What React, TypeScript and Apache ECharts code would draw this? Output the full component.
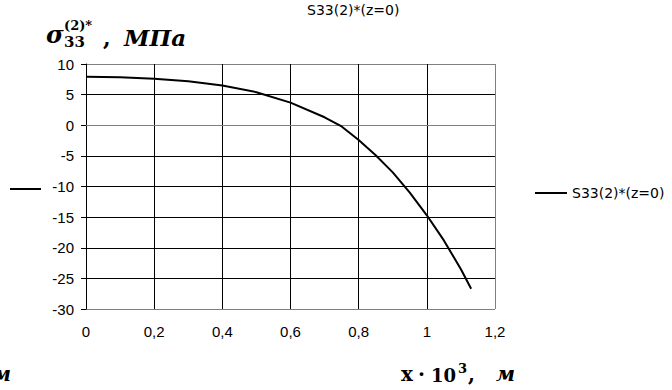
import React, { useEffect, useRef } from "react";
import * as echarts from "echarts";

// Stress profile along x at z = 0
const xValues = [0, 0.1, 0.2, 0.3, 0.4, 0.5, 0.6, 0.7, 0.75, 0.8, 0.85, 0.9, 0.95, 1.0, 1.05, 1.1, 1.13];
const s33Values = [7.9, 7.85, 7.6, 7.2, 6.5, 5.4, 3.7, 1.3, -0.2, -2.4, -4.9, -7.7, -11.0, -14.7, -18.8, -23.5, -26.7];
const seriesName = "S33(2)*(z=0)";

const yMin = -30;
const yMax = 10;
const yStep = 5;
const xMin = 0;
const xMax = 1.2;
const xStep = 0.2;

const sansFont = "Liberation Sans";
const serifFont = "'DejaVu Serif', serif";

export default function App() {
  const ref = useRef<HTMLDivElement>(null);

  useEffect(() => {
    if (!ref.current) return;
    const chart = echarts.init(ref.current, null, { renderer: "svg" });

    const data = xValues.map((x, i) => [x, s33Values[i]]);
    const yTickCount = Math.round((yMax - yMin) / yStep) + 1;
    const ySplitColors = Array.from({ length: yTickCount }, (_, i) =>
      i === 0 || i === yTickCount - 1 ? "#808080" : "#000000"
    );
    const xTickCount = Math.round((xMax - xMin) / xStep) + 1;
    const xSplitColors = Array.from({ length: xTickCount }, (_, i) =>
      i === xTickCount - 1 ? "#808080" : "#000000"
    );

    chart.setOption({
      animation: false,
      backgroundColor: "#ffffff",
      grid: { left: 86, right: 177, top: 64, bottom: 81, containLabel: false },
      legend: {
        data: [{ name: seriesName, icon: "rect" }],
        left: 530,
        top: 181,
        itemWidth: 32,
        itemHeight: 2,
        textStyle: { fontFamily: "'DejaVu Sans', sans-serif", fontSize: 14, color: "#000" },
      },
      xAxis: {
        type: "value",
        min: xMin,
        max: xMax,
        interval: xStep,
        axisLine: { show: true, lineStyle: { color: "#808080", width: 1 } },
        axisTick: { show: false },
        axisLabel: {
          margin: 15,
          color: "#000",
          fontFamily: sansFont,
          fontSize: 15,
          formatter: (v: number) => String(Math.round(v * 10) / 10).replace(".", ","),
        },
        splitLine: { show: true, lineStyle: { color: xSplitColors, width: 1 } },
      },
      yAxis: {
        type: "value",
        min: yMin,
        max: yMax,
        interval: yStep,
        axisLine: { show: true, onZero: false, lineStyle: { color: "#000", width: 1 } },
        axisTick: { show: true, inside: false, length: 5, lineStyle: { color: "#000" } },
        axisLabel: { margin: 12, color: "#000", fontFamily: sansFont, fontSize: 15 },
        splitLine: { show: true, lineStyle: { color: ySplitColors, width: 1 } },
      },
      series: [
        {
          name: seriesName,
          type: "line",
          data,
          symbol: "none",
          smooth: false,
          lineStyle: { color: "#000", width: 2 },
          itemStyle: { color: "#000" },
        },
      ],
      graphic: [
        {
          type: "text",
          x: 307,
          y: 10,
          style: {
            text: seriesName,
            font: "14px 'DejaVu Sans', sans-serif",
            fill: "#000",
            align: "left",
            verticalAlign: "middle",
          },
        },
        // cut-off legend marker on the left
        {
          type: "line",
          shape: { x1: 10, y1: 189, x2: 41, y2: 189 },
          style: { stroke: "#000", lineWidth: 2 },
        },
        // y-axis caption: sigma_33^(2)*, МПа
        {
          type: "text",
          x: 46,
          y: 46,
          style: { text: "σ", font: `italic bold 24px ${serifFont}`, fill: "#000", verticalAlign: "bottom" },
        },
        {
          type: "text",
          x: 64,
          y: 32,
          style: { text: "(2)*", font: `bold 13px ${serifFont}`, fill: "#000", verticalAlign: "bottom" },
        },
        {
          type: "text",
          x: 64,
          y: 49,
          style: { text: "33", font: `bold 15px ${serifFont}`, fill: "#000", verticalAlign: "bottom" },
        },
        {
          type: "text",
          x: 103,
          y: 49,
          style: { text: ",", font: `bold 22px ${serifFont}`, fill: "#000", verticalAlign: "bottom" },
        },
        {
          type: "text",
          x: 124,
          y: 49,
          style: { text: "МПа", font: `italic bold 23px ${serifFont}`, fill: "#000", verticalAlign: "bottom" },
        },
        // x-axis caption: x·10^3, м
        {
          type: "text",
          x: 401,
          y: 384,
          style: { text: "x", font: `bold 20px ${serifFont}`, fill: "#000", verticalAlign: "bottom" },
        },
        {
          type: "text",
          x: 418,
          y: 384,
          style: { text: "·", font: `bold 20px ${serifFont}`, fill: "#000", verticalAlign: "bottom" },
        },
        {
          type: "text",
          x: 431,
          y: 384,
          style: { text: "10", font: `bold 18px ${serifFont}`, fill: "#000", verticalAlign: "bottom" },
        },
        {
          type: "text",
          x: 458,
          y: 375,
          style: { text: "3", font: `bold 13px ${serifFont}`, fill: "#000", verticalAlign: "bottom" },
        },
        {
          type: "text",
          x: 468,
          y: 384,
          style: { text: ",", font: `bold 20px ${serifFont}`, fill: "#000", verticalAlign: "bottom" },
        },
        {
          type: "text",
          x: 496,
          y: 384,
          style: { text: "м", font: `italic bold 20px ${serifFont}`, fill: "#000", verticalAlign: "bottom" },
        },
        {
          type: "text",
          x: -8,
          y: 384,
          style: { text: "м", font: `italic bold 20px ${serifFont}`, fill: "#000", verticalAlign: "bottom" },
        },
      ],
    });

    return () => chart.dispose();
  }, []);

  return (
    <div
      ref={ref}
      style={{ position: "fixed", left: 0, top: 0, width: 672, height: 390 }}
    />
  );
}
